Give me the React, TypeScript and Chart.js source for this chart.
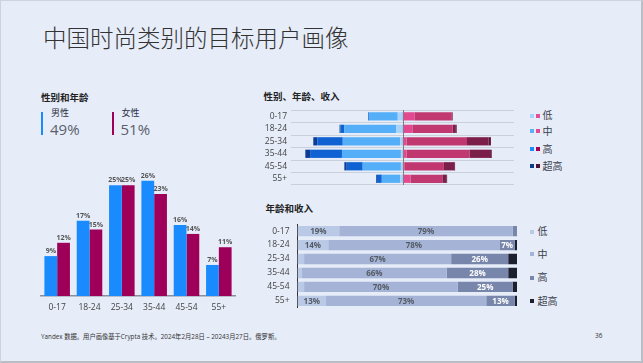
import React, { useEffect, useRef } from "react";
import { Chart, registerables } from "chart.js";
Chart.register(...registerables);

const FONT = "'Open Sans', 'Noto Sans CJK SC', sans-serif";

const ageGroups = ["0-17", "18-24", "25-34", "35-44", "45-54", "55+"];
const malePct = [9, 17, 25, 26, 16, 7];
const femalePct = [12, 15, 25, 23, 14, 11];

const incomeLevels = ["低", "中", "高", "超高"];
// pyramid: share of audience by gender, age and income
const maleLow = [0.6, 0.8, 0.3, 0.2, 0.2, 0.3];
const maleMid = [3.6, 6.5, 7.2, 7.4, 4.8, 2.3];
const maleHigh = [0.1, 0.5, 3.2, 4.0, 2.0, 0.6];
const maleVeryHigh = [0, 0.1, 0.5, 0.6, 0.3, 0.1];
const femaleLow = [1.5, 1.3, 0.5, 0.5, 0.3, 1.0];
const femaleMid = [4.7, 5.0, 7.6, 7.9, 4.9, 4.0];
const femaleHigh = [0.1, 0.4, 2.7, 2.6, 1.3, 0.5];
const femaleVeryHigh = [0, 0.1, 0.3, 0.2, 0.1, 0.1];

// age and income, 100% stacked
const shareLow = [19, 14, 3, 2, 3, 13];
const shareMid = [79, 78, 67, 66, 70, 73];
const shareHigh = [2, 7, 26, 28, 25, 13];
const shareVeryHigh = [0, 1, 4, 4, 2, 1];

const maleColors = ["#a9d3fb", "#55aef8", "#1062d2", "#0c3c98"];
const femaleColors = ["#e14a8e", "#c1376f", "#7b1f4a", "#5b1131"];
const legendMale = ["#a9d3fb", "#5ab2fa", "#1a8cff", "#0b3c8a"];
const legendFemale = ["#e44d9c", "#e04a98", "#a0005a", "#4c1030"];
const shareColors = ["#b9c9e6", "#a5b4d6", "#7786aa", "#1b1f2e"];

function useChart(ref: React.RefObject<HTMLCanvasElement | null>, make: () => any) {
  useEffect(() => {
    if (!ref.current) return;
    const chart = new Chart(ref.current, make());
    return () => chart.destroy();
  }, []);
}

function GenderAgeChart() {
  const ref = useRef<HTMLCanvasElement>(null);
  useChart(ref, () => ({
    type: "bar",
    data: {
      labels: ageGroups,
      datasets: [
        { label: "男性", data: malePct, backgroundColor: "#1a8bff", categoryPercentage: 0.79, barPercentage: 1 },
        { label: "女性", data: femalePct, backgroundColor: "#9e0059", categoryPercentage: 0.79, barPercentage: 1 },
      ],
    },
    options: {
      responsive: false,
      animation: false,
      devicePixelRatio: 1,
      layout: { padding: { left: 10, right: 11, top: 12, bottom: 0 } },
      plugins: { legend: { display: false }, tooltip: { enabled: false } },
      scales: {
        x: {
          afterFit: (s: any) => { s.height = 25; },
          grid: { display: false, drawTicks: false },
          border: { display: true, color: "#8a8f99", width: 1.5 },
          ticks: { font: { family: FONT, size: 8.5 }, color: "#444", padding: 6, autoSkip: false },
        },
        y: { display: false, min: 0, max: 30 },
      },
    },
    plugins: [
      {
        id: "barLabels",
        afterDatasetsDraw(chart: any) {
          const ctx = chart.ctx;
          ctx.save();
          ctx.font = `bold 7px ${FONT}`;
          ctx.fillStyle = "#555";
          ctx.textAlign = "center";
          ctx.textBaseline = "bottom";
          chart.data.datasets.forEach((ds: any, di: number) => {
            const meta = chart.getDatasetMeta(di);
            meta.data.forEach((el: any, i: number) => {
              ctx.fillText(ds.data[i] + "%", el.x, el.y - 1.5);
            });
          });
          ctx.restore();
        },
      },
    ],
  }));
  return <canvas ref={ref} width={215} height={170} style={{ position: "absolute", left: 30, top: 150 }} />;
}

function PyramidChart() {
  const ref = useRef<HTMLCanvasElement>(null);
  useChart(ref, () => {
    const male = [maleLow, maleMid, maleHigh, maleVeryHigh];
    const female = [femaleLow, femaleMid, femaleHigh, femaleVeryHigh];
    const datasets: any[] = [];
    male.forEach((arr, i) =>
      datasets.push({ label: "男 " + incomeLevels[i], data: arr.map((v) => -v), backgroundColor: maleColors[i], categoryPercentage: 0.66, barPercentage: 1 })
    );
    female.forEach((arr, i) =>
      datasets.push({ label: "女 " + incomeLevels[i], data: arr, backgroundColor: femaleColors[i], categoryPercentage: 0.66, barPercentage: 1 })
    );
    return {
      type: "bar",
      data: { labels: ageGroups, datasets },
      options: {
        indexAxis: "y",
        responsive: false,
        animation: false,
        devicePixelRatio: 1,
        layout: { padding: { left: 2, right: 7, top: 8, bottom: 11 } },
        plugins: { legend: { display: false }, tooltip: { enabled: false } },
        scales: {
          x: { display: false, stacked: true, min: -14, max: 14 },
          y: {
            stacked: true,
            afterFit: (s: any) => { s.width = 38; },
            grid: { display: true, offset: true, color: "#c9cfdb", drawTicks: false, lineWidth: 1 },
            border: { display: false },
            ticks: { font: { family: FONT, size: 8.5 }, color: "#444", padding: 4, autoSkip: false },
          },
        },
      },
      plugins: [
        {
          id: "centerLine",
          afterDatasetsDraw(chart: any) {
            const ctx = chart.ctx;
            const x = Math.round(chart.scales.x.getPixelForValue(0)) + 0.5;
            ctx.save();
            ctx.strokeStyle = "#7a7f88";
            ctx.lineWidth = 1;
            ctx.beginPath();
            ctx.moveTo(x, chart.chartArea.top);
            ctx.lineTo(x, chart.chartArea.bottom);
            ctx.stroke();
            ctx.restore();
          },
        },
      ],
    };
  });
  return <canvas ref={ref} width={270} height={95} style={{ position: "absolute", left: 250, top: 100 }} />;
}

function IncomeShareChart() {
  const ref = useRef<HTMLCanvasElement>(null);
  useChart(ref, () => {
    const series = [shareLow, shareMid, shareHigh, shareVeryHigh];
    return {
      type: "bar",
      data: {
        labels: ageGroups,
        datasets: series.map((arr, i) => ({
          label: incomeLevels[i],
          data: arr,
          backgroundColor: shareColors[i],
          categoryPercentage: 0.74,
          barPercentage: 1,
        })),
      },
      options: {
        indexAxis: "y",
        responsive: false,
        animation: false,
        devicePixelRatio: 1,
        layout: { padding: { left: 0, right: 4, top: 7.5, bottom: 7.7 } },
        plugins: { legend: { display: false }, tooltip: { enabled: false } },
        scales: {
          x: { display: false, stacked: true, min: 0, max: 100 },
          y: {
            stacked: true,
            afterFit: (s: any) => { s.width = 46.5; },
            grid: { display: false, drawTicks: false },
            border: { display: true, color: "#333", width: 1 },
            ticks: { font: { family: FONT, size: 8.5 }, color: "#444", padding: 8, autoSkip: false },
          },
        },
      },
      plugins: [
        {
          id: "segLabels",
          afterDatasetsDraw(chart: any) {
            const ctx = chart.ctx;
            ctx.save();
            ctx.font = `bold 8px ${FONT}`;
            ctx.textAlign = "center";
            ctx.textBaseline = "middle";
            chart.data.datasets.forEach((ds: any, di: number) => {
              const meta = chart.getDatasetMeta(di);
              meta.data.forEach((el: any, i: number) => {
                const v = ds.data[i];
                if (v < 7) return;
                ctx.fillStyle = di >= 2 ? "#ffffff" : "#555b66";
                ctx.fillText(v + "%", (el.x + el.base) / 2, el.y + 0.5);
              });
            });
            ctx.restore();
          },
        },
      ],
    };
  });
  return <canvas ref={ref} width={270} height={110} style={{ position: "absolute", left: 250, top: 210 }} />;
}

const abs = (s: React.CSSProperties): React.CSSProperties => ({ position: "absolute", whiteSpace: "nowrap", ...s });

export default function App() {
  const topLegendY = [114.7, 130, 148, 165.3];
  const bottomLegendY = [230.7, 253.3, 276.7, 300];
  return (
    <div
      style={{
        position: "fixed",
        left: 0,
        top: 0,
        width: 643,
        height: 363,
        boxSizing: "border-box",
        background: "#e6ecf8",
        borderTop: "1px solid #cfd4dc",
        borderLeft: "1px solid #cfd4dc",
        borderRight: "2px solid #b9bec7",
        borderBottom: "2px solid #b9bec7",
        fontFamily: FONT,
        overflow: "hidden",
      }}
    >
      <div style={{ position: "absolute", left: 0, top: 0, width: 643, height: 363 }}>
        <div style={abs({ left: 42, top: 23, fontSize: 23.5, lineHeight: "26px", color: "#333", fontFamily: "'Noto Sans CJK SC', sans-serif", fontWeight: 300 })}>
          中国时尚类别的目标用户画像
        </div>

        <div style={abs({ left: 40, top: 91, fontSize: 9.5, lineHeight: "12px", fontWeight: 700, color: "#222" })}>性别和年龄</div>
        <div style={abs({ left: 40, top: 111, width: 2.2, height: 23, background: "#1a8bff" })} />
        <div style={abs({ left: 50, top: 106, fontSize: 9, lineHeight: "12px", color: "#2c3345" })}>男性</div>
        <div style={abs({ left: 49, top: 119, fontSize: 15, lineHeight: "18px", color: "#5a5f6b" })}>49%</div>
        <div style={abs({ left: 110.5, top: 111, width: 2.2, height: 23, background: "#9e0059" })} />
        <div style={abs({ left: 120.5, top: 106, fontSize: 9, lineHeight: "12px", color: "#2c3345" })}>女性</div>
        <div style={abs({ left: 119.5, top: 119, fontSize: 15, lineHeight: "18px", color: "#5a5f6b" })}>51%</div>

        <div style={abs({ left: 262.5, top: 90, fontSize: 9.5, lineHeight: "12px", fontWeight: 700, color: "#222" })}>性别、年龄、收入</div>
        <div style={abs({ left: 264.5, top: 201.5, fontSize: 9.5, lineHeight: "12px", fontWeight: 700, color: "#222" })}>年龄和收入</div>

        <GenderAgeChart />
        <PyramidChart />
        <IncomeShareChart />

        {incomeLevels.map((lv, i) => (
          <React.Fragment key={"t" + lv}>
            <div style={abs({ left: 529, top: topLegendY[i] - 2, width: 4, height: 4, background: legendMale[i] })} />
            <div style={abs({ left: 534.5, top: topLegendY[i] - 2, width: 4, height: 4, background: legendFemale[i] })} />
            <div style={abs({ left: 541.5, top: topLegendY[i] - 6.5, fontSize: 10, lineHeight: "12px", color: "#3a3f4c" })}>{lv}</div>
          </React.Fragment>
        ))}
        {incomeLevels.map((lv, i) => (
          <React.Fragment key={"b" + lv}>
            <div style={abs({ left: 529, top: bottomLegendY[i] - 2, width: 4, height: 4, background: shareColors[i] })} />
            <div style={abs({ left: 536.5, top: bottomLegendY[i] - 6.5, fontSize: 10, lineHeight: "12px", color: "#3a3f4c" })}>{lv}</div>
          </React.Fragment>
        ))}

        <div style={abs({ left: 40, top: 331.5, fontSize: 6.3, lineHeight: "8px", color: "#333" })}>
          Yandex 数据。用户画像基于Crypta 技术。2024年2月28日 – 20243月27日。俄罗斯。
        </div>
        <div style={abs({ left: 594, top: 331, fontSize: 6.5, lineHeight: "8px", color: "#333" })}>36</div>
      </div>
    </div>
  );
}
